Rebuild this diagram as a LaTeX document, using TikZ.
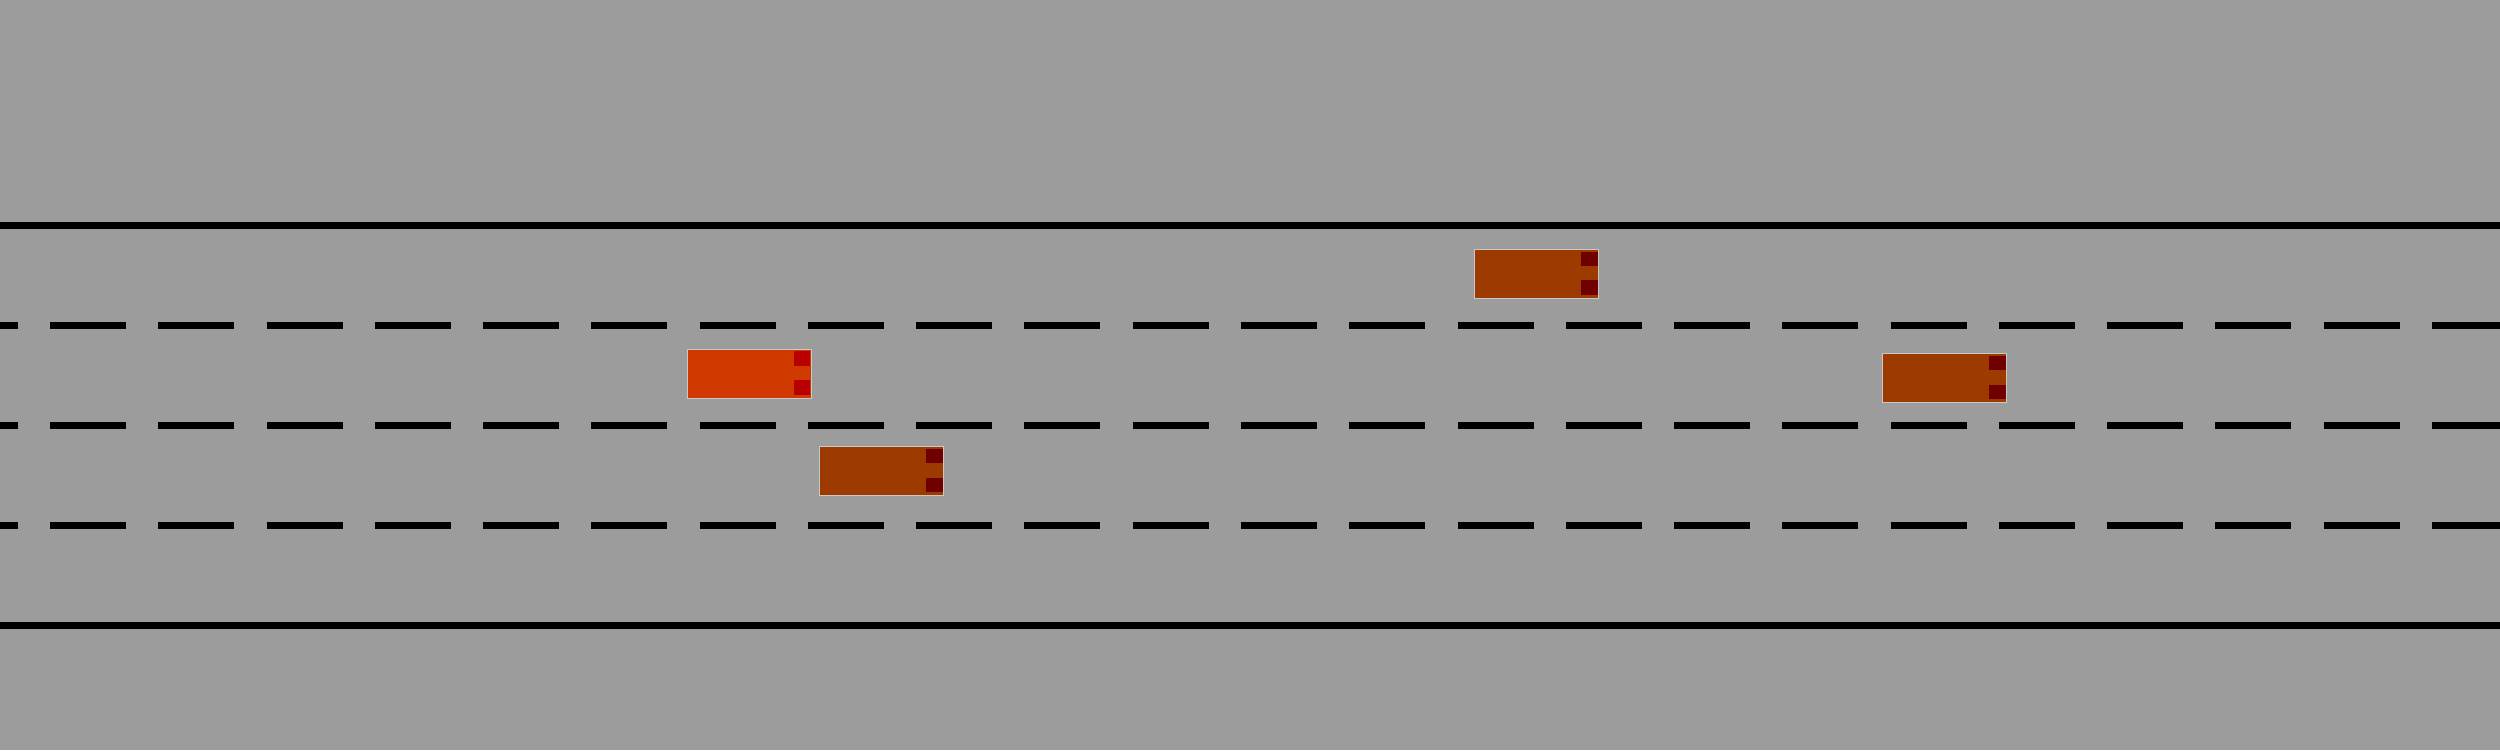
\documentclass[tikz,border=0pt]{standalone}
\usetikzlibrary{positioning}
\usetikzlibrary{calc}
\definecolor{asphalt}{RGB}{156,156,156}
\definecolor{egocar}{RGB}{208,58,0}
\definecolor{othercar}{RGB}{156,58,0}
\definecolor{egolamp}{RGB}{184,0,0}
\definecolor{otherlamp}{RGB}{112,0,0}
\definecolor{carrim}{RGB}{200,200,200}
\tikzset{
	edge/.style={line width=0.07cm},
	lane/.style={line width=0.07cm, dash pattern=on 0.76cm off 0.3227cm, dash phase=0.5827cm},
	car/.style={rectangle, draw=carrim, line width=0.01cm, inner sep=0pt, minimum width=1.24cm, minimum height=0.49cm},
	lamp/.style={rectangle, inner sep=0pt, minimum width=0.165cm, minimum height=0.147cm}
}
\begin{document}
\begin{tikzpicture}
			\fill[asphalt] (0,0) rectangle (25,7.5);
			\useasboundingbox (0,0) rectangle (25,7.5);
			% road borders and lane markings
			\draw[edge] (0,5.245) -- (25,5.245);
			\draw[lane] (0,4.245) -- (25,4.245);
			\draw[lane] (0,3.245) -- (25,3.245);
			\draw[lane] (0,2.245) -- (25,2.245);
			\draw[edge] (0,1.245) -- (25,1.245);
			% vehicles
			\node[car, fill=egocar] (ego) at (7.49,3.763) {};
			\node[car, fill=othercar] (carA) at (15.365,4.762) {};
			\node[car, fill=othercar] (carB) at (8.813,2.79) {};
			\node[car, fill=othercar] (carC) at (19.445,3.72) {};
			\node[lamp, fill=egolamp, anchor=north east] (ego-l) at ($(ego.north east)+(-0.005,-0.02)$) {};
			\node[lamp, fill=egolamp, anchor=south east] (ego-r) at ($(ego.south east)+(-0.005,0.03)$) {};
			\node[lamp, fill=otherlamp, anchor=north east] (carA-l) at ($(carA.north east)+(-0.005,-0.02)$) {};
			\node[lamp, fill=otherlamp, anchor=south east] (carA-r) at ($(carA.south east)+(-0.005,0.03)$) {};
			\node[lamp, fill=otherlamp, anchor=north east] (carB-l) at ($(carB.north east)+(-0.005,-0.02)$) {};
			\node[lamp, fill=otherlamp, anchor=south east] (carB-r) at ($(carB.south east)+(-0.005,0.03)$) {};
			\node[lamp, fill=otherlamp, anchor=north east] (carC-l) at ($(carC.north east)+(-0.005,-0.02)$) {};
			\node[lamp, fill=otherlamp, anchor=south east] (carC-r) at ($(carC.south east)+(-0.005,0.03)$) {};
		\end{tikzpicture}
\end{document}
